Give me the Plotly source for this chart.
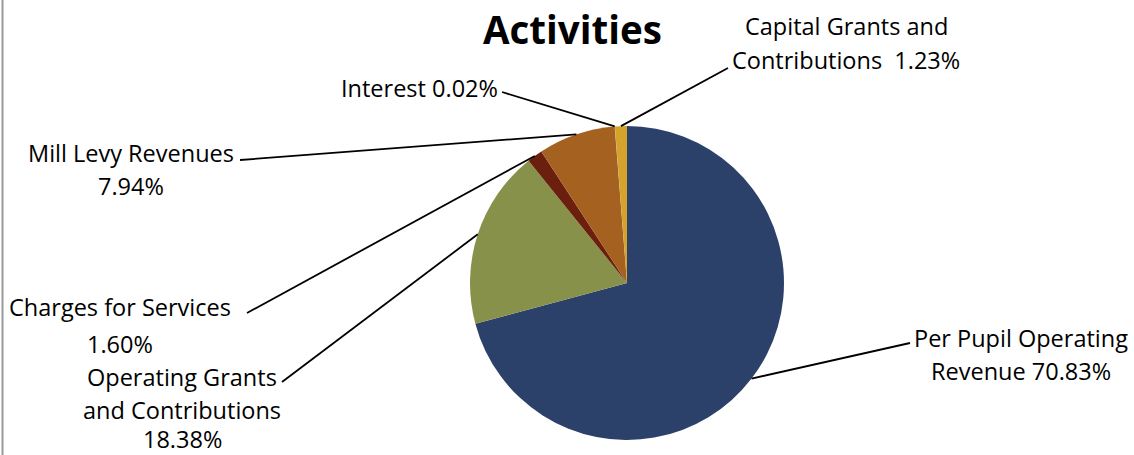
import math
import plotly.graph_objects as go

# ---- data ----
categories = ["Per Pupil Operating Revenue", "Operating Grants and Contributions",
              "Charges for Services", "Mill Levy Revenues", "Interest",
              "Capital Grants and Contributions"]
shares = [70.83, 18.38, 1.60, 7.94, 0.02, 1.23]
label_lines = [["Per Pupil Operating", "Revenue 70.83%"],
               ["Operating Grants", "and Contributions", "18.38%"],
               ["Charges for Services", "1.60%"],
               ["Mill Levy Revenues", "7.94%"],
               ["Interest 0.02%"],
               ["Capital Grants and", "Contributions  1.23%"]]
colors = ["#2C416A", "#88914A", "#6B200E", "#A5611F", "#8AA0C8", "#D5A32C"]

# ---- layout (pixels) ----
W, H = 1134, 455
CX, CY, R = 627, 283, 157
FONT = "Open Sans"
FSIZE = 23.5
# label centre x and the y of each text line
label_x = [1021, 182, 120, 131, 419, 846]
label_y = [[336, 369], [375, 408, 437], [305, 342], [151, 184], [86], [24, 58]]
# leader-line end near label (x, y)
leader_end = [(910, 343), (282, 382), (247, 313), (240, 160), (502, 92), (728, 68)]

def px(x):
    return x / W

def py(y):
    return 1 - y / H

fig = go.Figure(go.Pie(
    labels=categories, values=shares, sort=False, direction="clockwise",
    rotation=0, marker=dict(colors=colors, line=dict(width=0)),
    textinfo="none", hoverinfo="label+percent", showlegend=False,
    domain=dict(x=[px(CX - R), px(CX + R)], y=[py(CY + R), py(CY - R)]),
))

shapes = []
annotations = []
total = sum(shares)
cum = 0.0
for i, v in enumerate(shares):
    mid = (cum + v / 2) / total * 2 * math.pi
    cum += v
    sx = CX + R * math.sin(mid)
    sy = CY - R * math.cos(mid)
    ex, ey = leader_end[i]
    shapes.append(dict(type="line", xref="paper", yref="paper",
                       x0=px(sx), y0=py(sy), x1=px(ex), y1=py(ey),
                       line=dict(color="black", width=1.8)))
    for line_text, ly in zip(label_lines[i], label_y[i]):
        annotations.append(dict(text=line_text, x=px(label_x[i]), y=py(ly + 2),
                                xref="paper", yref="paper", xanchor="center",
                                yanchor="middle", align="center", showarrow=False,
                                font=dict(family=FONT, size=FSIZE, color="black")))

annotations.append(dict(text="<b>Activities</b>", x=px(572), y=py(29),
                        xref="paper", yref="paper", xanchor="center",
                        yanchor="middle", showarrow=False,
                        font=dict(family=FONT, size=38.5, color="black")))

# left frame border
shapes.append(dict(type="line", xref="paper", yref="paper",
                   x0=px(2.5), x1=px(2.5), y0=0, y1=1,
                   line=dict(color="#999999", width=2)))

fig.update_layout(width=W, height=H, margin=dict(l=0, r=0, t=0, b=0),
                  paper_bgcolor="white", plot_bgcolor="white",
                  shapes=shapes, annotations=annotations)
fig.write_html("out.html", config={"displayModeBar": False},
               post_script="document.body.style.margin='0';")
